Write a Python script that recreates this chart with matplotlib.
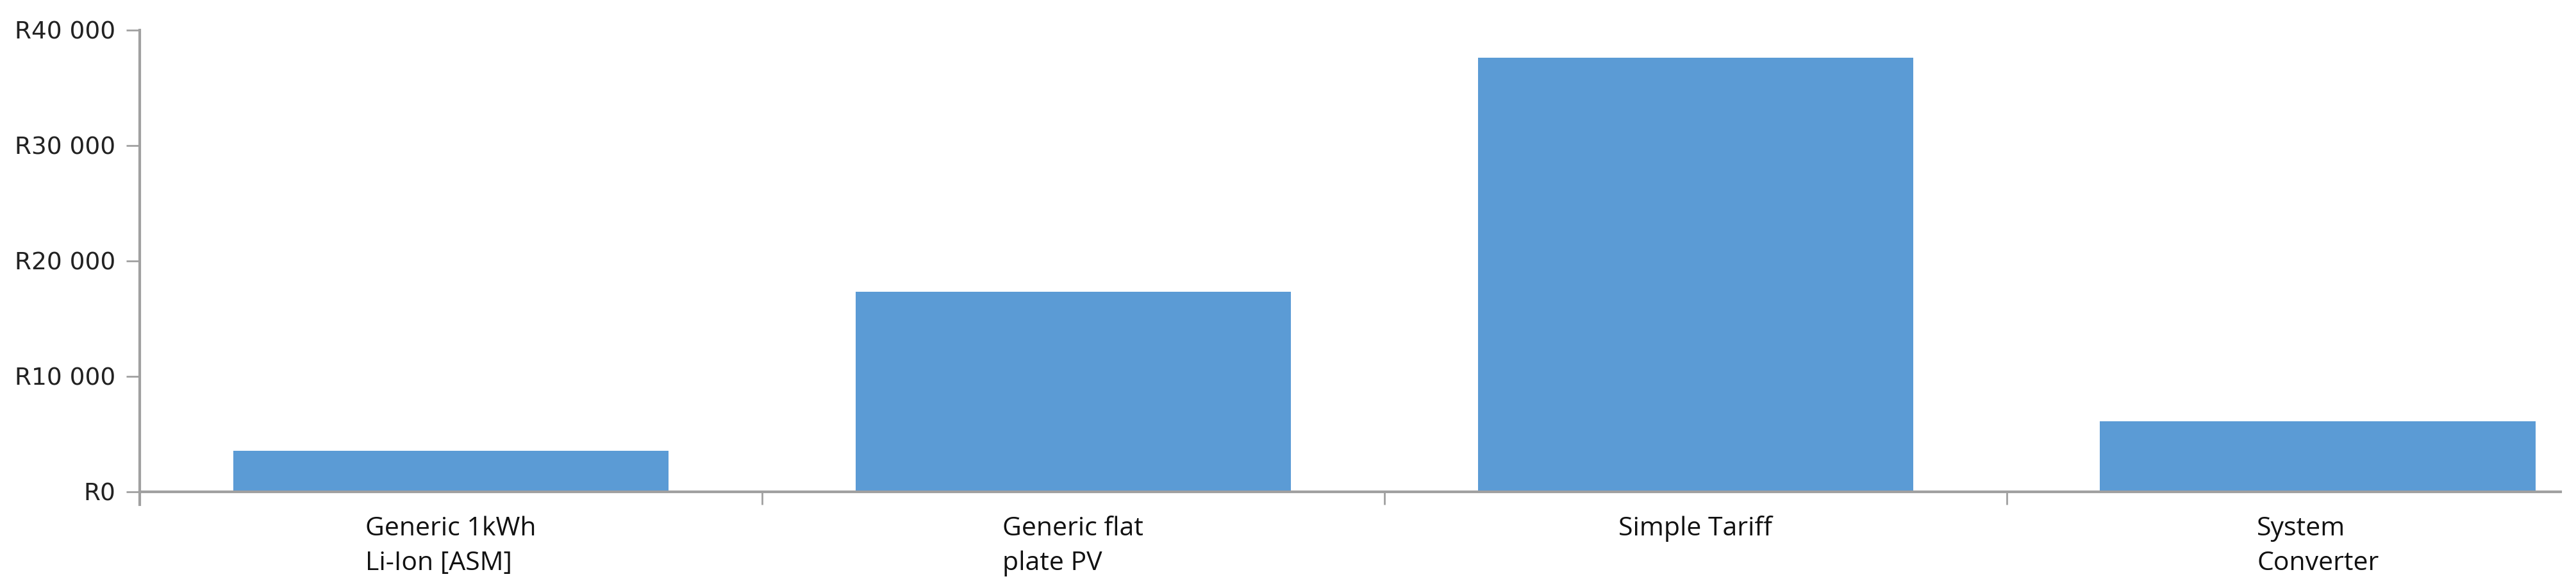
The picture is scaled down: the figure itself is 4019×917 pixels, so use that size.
import matplotlib
matplotlib.use("Agg")
import matplotlib.pyplot as plt
from matplotlib.ticker import FuncFormatter, FixedLocator

# data
categories = ["Generic 1kWh\nLi-Ion [ASM]", "Generic flat\nplate PV", "Simple Tariff", "System\nConverter"]
costs = [3570, 17300, 37600, 6100]
y_ticks = [0, 10000, 20000, 30000, 40000]

bar_color = "#5b9bd5"
axis_color = "#a0a0a0"

fig = plt.figure(figsize=(40.19, 9.17), dpi=100)
ax = fig.add_axes([0.05424, 0.16358, 0.93979, 0.78571])

x = list(range(len(categories)))
ax.bar(x, costs, width=0.7, color=bar_color, zorder=1)

ax.set_xlim(-0.5, 3.39)
ax.set_ylim(0, 40000)

# spines
for side in ["top", "right"]:
    ax.spines[side].set_visible(False)
for side in ["left", "bottom"]:
    ax.spines[side].set_color(axis_color)
    ax.spines[side].set_linewidth(3)
    ax.spines[side].set_zorder(3)

# y axis
ax.yaxis.set_major_locator(FixedLocator(y_ticks))
ax.yaxis.set_major_formatter(FuncFormatter(lambda v, p: "R" + f"{int(v):,}".replace(",", " ")))
ax.tick_params(axis="y", length=15, width=2, color=axis_color, pad=12,
               labelsize=27, labelcolor="#222222")
for lbl in ax.get_yticklabels():
    lbl.set_family("DejaVu Sans")

# x axis: tick marks at category boundaries, labels at centres
ax.xaxis.set_major_locator(FixedLocator([-0.5, 0.5, 1.5, 2.5]))
ax.xaxis.set_major_formatter(FuncFormatter(lambda v, p: ""))
ax.xaxis.set_minor_locator(FixedLocator(x))
ax.set_xticklabels(categories, minor=True)
ax.tick_params(axis="x", which="major", direction="out", length=14.5, width=2, color=axis_color)
ax.tick_params(axis="x", which="minor", length=0, pad=27, labelsize=29.5, labelcolor="#111111")
for lbl in ax.get_xticklabels(minor=True):
    lbl.set_family(["Open Sans", "DejaVu Sans"])
    lbl.set_multialignment("left")
    lbl.set_linespacing(1.45)

# left spine extends a little below the x axis
ax.spines["left"].set_bounds(0, 40000)
ax.plot([-0.5, -0.5], [0, -1100], color=axis_color, lw=3, clip_on=False, zorder=3)

fig.savefig("out.png", dpi=100, facecolor="white")
